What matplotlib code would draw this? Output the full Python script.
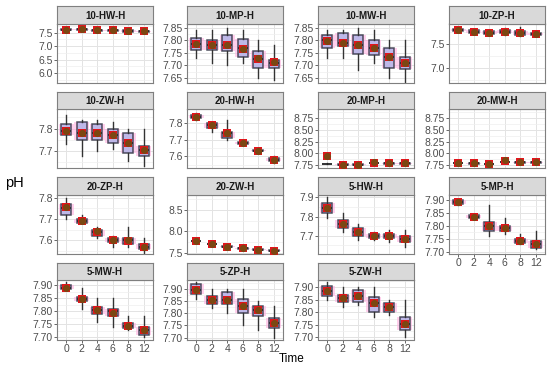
import numpy as np
import matplotlib.pyplot as plt
from matplotlib.ticker import AutoMinorLocator

plt.rcParams['font.family'] = ['Liberation Sans', 'DejaVu Sans']

times = ['0', '2', '4', '6', '8', '12']
panels = ['10-HW-H', '10-MP-H', '10-MW-H', '10-ZP-H',
          '10-ZW-H', '20-HW-H', '20-MP-H', '20-MW-H',
          '20-ZP-H', '20-ZW-H', '5-HW-H', '5-MP-H',
          '5-MW-H', '5-ZP-H', '5-ZW-H']

# box stats per panel (one value per time point)
whislo = [
    [7.57, 7.59, 7.54, 7.55, 7.52, 7.51],
    [7.73, 7.71, 7.70, 7.71, 7.65, 7.64],
    [7.73, 7.73, 7.68, 7.71, 7.65, 7.635],
    [7.76, 7.72, 7.70, 7.68, 7.67, 7.68],
    [7.73, 7.68, 7.70, 7.71, 7.655, 7.635],
    [7.82, 7.75, 7.70, 7.67, 7.62, 7.56],
    [7.77, 7.75, 7.75, 7.79, 7.78, 7.78],
    [7.79, 7.77, 7.77, 7.80, 7.80, 7.80],
    [7.70, 7.68, 7.61, 7.57, 7.57, 7.54],
    [7.76, 7.69, 7.63, 7.59, 7.56, 7.54],
    [7.79, 7.72, 7.68, 7.68, 7.67, 7.64],
    [7.88, 7.83, 7.76, 7.77, 7.73, 7.71],
    [7.88, 7.81, 7.76, 7.74, 7.73, 7.70],
    [7.86, 7.82, 7.80, 7.75, 7.73, 7.70],
    [7.85, 7.82, 7.83, 7.78, 7.79, 7.70],
]
q1 = [
    [7.59, 7.61, 7.56, 7.57, 7.54, 7.53],
    [7.76, 7.76, 7.755, 7.735, 7.69, 7.69],
    [7.77, 7.775, 7.745, 7.74, 7.69, 7.685],
    [7.77, 7.73, 7.71, 7.72, 7.69, 7.69],
    [7.77, 7.75, 7.75, 7.735, 7.69, 7.68],
    [7.83, 7.775, 7.71, 7.675, 7.63, 7.57],
    [7.775, 7.755, 7.755, 7.795, 7.785, 7.785],
    [7.795, 7.785, 7.775, 7.81, 7.805, 7.805],
    [7.72, 7.68, 7.62, 7.59, 7.58, 7.56],
    [7.77, 7.70, 7.64, 7.60, 7.57, 7.55],
    [7.82, 7.74, 7.70, 7.69, 7.69, 7.67],
    [7.885, 7.83, 7.78, 7.78, 7.735, 7.715],
    [7.885, 7.84, 7.79, 7.78, 7.735, 7.71],
    [7.88, 7.84, 7.84, 7.80, 7.79, 7.74],
    [7.865, 7.84, 7.84, 7.80, 7.80, 7.73],
]
med = [
    [7.61, 7.63, 7.58, 7.59, 7.56, 7.55],
    [7.785, 7.78, 7.78, 7.77, 7.725, 7.71],
    [7.80, 7.79, 7.78, 7.77, 7.735, 7.71],
    [7.78, 7.75, 7.73, 7.75, 7.72, 7.70],
    [7.79, 7.78, 7.78, 7.77, 7.735, 7.705],
    [7.84, 7.79, 7.74, 7.68, 7.635, 7.58],
    [7.78, 7.76, 7.76, 7.80, 7.79, 7.79],
    [7.80, 7.79, 7.78, 7.815, 7.81, 7.81],
    [7.75, 7.69, 7.64, 7.60, 7.60, 7.57],
    [7.78, 7.71, 7.65, 7.61, 7.58, 7.56],
    [7.845, 7.76, 7.72, 7.70, 7.70, 7.685],
    [7.89, 7.835, 7.80, 7.79, 7.74, 7.73],
    [7.89, 7.845, 7.805, 7.80, 7.745, 7.73],
    [7.895, 7.855, 7.855, 7.83, 7.815, 7.76],
    [7.885, 7.855, 7.865, 7.835, 7.82, 7.755],
]
q3 = [
    [7.63, 7.65, 7.60, 7.61, 7.58, 7.57],
    [7.81, 7.80, 7.82, 7.805, 7.755, 7.72],
    [7.82, 7.83, 7.82, 7.80, 7.77, 7.735],
    [7.80, 7.78, 7.76, 7.78, 7.76, 7.72],
    [7.82, 7.83, 7.82, 7.80, 7.78, 7.725],
    [7.85, 7.80, 7.75, 7.69, 7.64, 7.59],
    [7.785, 7.765, 7.765, 7.805, 7.795, 7.795],
    [7.805, 7.795, 7.785, 7.82, 7.815, 7.815],
    [7.77, 7.70, 7.65, 7.61, 7.61, 7.58],
    [7.79, 7.72, 7.66, 7.62, 7.59, 7.57],
    [7.87, 7.78, 7.74, 7.71, 7.71, 7.70],
    [7.90, 7.84, 7.815, 7.80, 7.75, 7.74],
    [7.90, 7.855, 7.815, 7.81, 7.755, 7.74],
    [7.92, 7.87, 7.89, 7.86, 7.83, 7.78],
    [7.905, 7.87, 7.89, 7.86, 7.835, 7.78],
]
whishi = [
    [7.65, 7.67, 7.62, 7.63, 7.60, 7.59],
    [7.84, 7.84, 7.85, 7.84, 7.80, 7.78],
    [7.84, 7.84, 7.85, 7.84, 7.80, 7.80],
    [7.81, 7.79, 7.79, 7.82, 7.84, 7.73],
    [7.86, 7.84, 7.84, 7.83, 7.80, 7.80],
    [7.86, 7.81, 7.82, 7.70, 7.65, 7.60],
    [7.79, 7.77, 7.77, 7.82, 7.80, 7.81],
    [7.82, 7.81, 7.79, 7.86, 7.83, 7.83],
    [7.80, 7.72, 7.66, 7.62, 7.66, 7.61],
    [7.81, 7.73, 7.67, 7.63, 7.60, 7.58],
    [7.90, 7.82, 7.76, 7.72, 7.73, 7.73],
    [7.90, 7.84, 7.88, 7.83, 7.77, 7.78],
    [7.91, 7.89, 7.85, 7.85, 7.78, 7.78],
    [7.93, 7.90, 7.90, 7.90, 7.85, 7.83],
    [7.92, 7.90, 7.90, 7.90, 7.85, 7.85],
]
# means of the two replicate groups (red squares / brown dots)
mean_red = [
    [7.61, 7.63, 7.58, 7.59, 7.56, 7.55],
    [7.785, 7.78, 7.78, 7.765, 7.725, 7.715],
    [7.795, 7.79, 7.78, 7.77, 7.735, 7.71],
    [7.78, 7.75, 7.73, 7.75, 7.72, 7.70],
    [7.79, 7.78, 7.78, 7.77, 7.735, 7.705],
    [7.84, 7.79, 7.74, 7.68, 7.635, 7.58],
    [7.95, 7.76, 7.76, 7.80, 7.79, 7.79],
    [7.80, 7.79, 7.78, 7.84, 7.81, 7.81],
    [7.755, 7.69, 7.64, 7.60, 7.595, 7.57],
    [7.78, 7.71, 7.65, 7.61, 7.58, 7.56],
    [7.845, 7.76, 7.72, 7.70, 7.70, 7.685],
    [7.89, 7.835, 7.80, 7.79, 7.74, 7.73],
    [7.89, 7.845, 7.805, 7.795, 7.745, 7.73],
    [7.895, 7.855, 7.855, 7.83, 7.815, 7.76],
    [7.885, 7.855, 7.865, 7.835, 7.82, 7.755],
]
mean_brown = [
    [7.61, 7.63, 7.58, 7.59, 7.56, 7.55],
    [7.785, 7.78, 7.78, 7.765, 7.73, 7.715],
    [7.795, 7.79, 7.78, 7.77, 7.735, 7.71],
    [7.78, 7.75, 7.73, 7.75, 7.72, 7.70],
    [7.79, 7.78, 7.78, 7.77, 7.735, 7.705],
    [7.84, 7.79, 7.74, 7.68, 7.635, 7.58],
    [7.95, 7.76, 7.76, 7.81, 7.79, 7.80],
    [7.80, 7.79, 7.78, 7.85, 7.81, 7.81],
    [7.755, 7.69, 7.645, 7.60, 7.60, 7.57],
    [7.78, 7.71, 7.65, 7.61, 7.58, 7.56],
    [7.845, 7.76, 7.72, 7.70, 7.70, 7.685],
    [7.89, 7.835, 7.80, 7.79, 7.74, 7.73],
    [7.89, 7.845, 7.805, 7.795, 7.745, 7.73],
    [7.895, 7.855, 7.855, 7.83, 7.815, 7.76],
    [7.885, 7.855, 7.865, 7.835, 7.82, 7.755],
]
ylims = [(5.63, 7.84), (7.63, 7.866), (7.63, 7.866), (6.69, 7.92),
         (7.625, 7.89), (7.53, 7.89), (7.69, 8.95), (7.69, 8.95),
         (7.535, 7.815), (7.48, 8.85), (7.605, 7.915), (7.692, 7.92),
         (7.692, 7.919), (7.692, 7.9375), (7.692, 7.928)]
yticks = [[6.0, 6.5, 7.0, 7.5], [7.65, 7.70, 7.75, 7.80, 7.85],
          [7.65, 7.70, 7.75, 7.80, 7.85], [7.0, 7.5], [7.7, 7.8],
          [7.6, 7.7, 7.8], [7.75, 8.0, 8.25, 8.5, 8.75],
          [7.75, 8.0, 8.25, 8.5, 8.75], [7.6, 7.7, 7.8],
          [7.5, 8.0, 8.5], [7.7, 7.8, 7.9],
          [7.70, 7.75, 7.80, 7.85, 7.90], [7.70, 7.75, 7.80, 7.85, 7.90],
          [7.70, 7.75, 7.80, 7.85, 7.90], [7.70, 7.75, 7.80, 7.85, 7.90]]
ytick_fmt = ['%.1f', '%.2f', '%.2f', '%.1f', '%.1f', '%.1f', '%.2f', '%.2f',
             '%.1f', '%.1f', '%.1f', '%.2f', '%.2f', '%.2f', '%.2f']

W, H = 550, 371
fig = plt.figure(figsize=(W / 100, H / 100), dpi=100)
col_left = [57, 187, 318, 449]
row_top = [23.5, 108.5, 194.5, 280]
pw, ph, sh = 96, 59.5, 17
grey = '#4d4d4d'

x = np.arange(1, 7)
for k, name in enumerate(panels):
    r, c = divmod(k, 4)
    left = col_left[c] / W
    bottom = 1 - (row_top[r] + ph) / H
    ax = fig.add_axes([left, bottom, pw / W, ph / H])
    stats = [dict(med=med[k][i], q1=q1[k][i], q3=q3[k][i],
                  whislo=whislo[k][i], whishi=whishi[k][i], fliers=[])
             for i in range(6)]
    # pink halo (second group)
    ax.bxp(stats, positions=x, widths=0.95, patch_artist=True, showcaps=False,
           boxprops=dict(facecolor='#ffb0e0', edgecolor='none', alpha=0.6),
           whiskerprops=dict(linewidth=0), medianprops=dict(linewidth=0))
    ax.bxp(stats, positions=x, widths=0.62, patch_artist=True, showcaps=False,
           boxprops=dict(facecolor='#b4b4e8', edgecolor='#333344', linewidth=1.1, alpha=0.85),
           whiskerprops=dict(color='#333333', linewidth=1.0),
           medianprops=dict(color='#222222', linewidth=1.1))
    ax.scatter(x, mean_red[k], marker='s', s=34, color='#e0161c', zorder=5, linewidths=0)
    ax.scatter(x, mean_brown[k], marker='o', s=26, color='#7b4712', zorder=6, linewidths=0)

    ax.set_xlim(0.4, 6.6)
    ax.set_ylim(*ylims[k])
    ax.set_yticks(yticks[k])
    ax.set_yticklabels([ytick_fmt[k] % v for v in yticks[k]])
    ax.yaxis.set_minor_locator(AutoMinorLocator(2))
    ax.set_xticks(x)
    ax.grid(True, which='major', color='#e3e3e3', linewidth=0.7)
    ax.grid(True, which='minor', axis='y', color='#efefef', linewidth=0.5)
    ax.set_axisbelow(True)
    ax.tick_params(axis='y', which='major', labelsize=7.5, colors=grey, length=2, width=0.6, pad=1)
    ax.tick_params(axis='y', which='minor', length=0)
    if k >= 11:
        ax.set_xticklabels(times)
        ax.tick_params(axis='x', labelsize=7.5, colors=grey, length=2, width=0.6, pad=1)
    else:
        ax.set_xticklabels([])
        ax.tick_params(axis='x', length=0)
    for s in ax.spines.values():
        s.set_color('#7f7f7f')
        s.set_linewidth(0.8)

    strip = fig.add_axes([left, 1 - row_top[r] / H, pw / W, sh / H])
    strip.set_facecolor('#d9d9d9')
    strip.set_xticks([])
    strip.set_yticks([])
    for s in strip.spines.values():
        s.set_color('#7f7f7f')
        s.set_linewidth(0.8)
    strip.text(0.5, 0.45, name, ha='center', va='center', fontsize=7,
               fontweight='bold', color='#1a1a1a', transform=strip.transAxes)

fig.text(14 / W, 1 - 183 / H, 'pH', fontsize=10.5, ha='center', va='center')
fig.text(292 / W, 1 - 359 / H, 'Time', fontsize=8.5, ha='center', va='center')

fig.savefig('out.png', dpi=100)
